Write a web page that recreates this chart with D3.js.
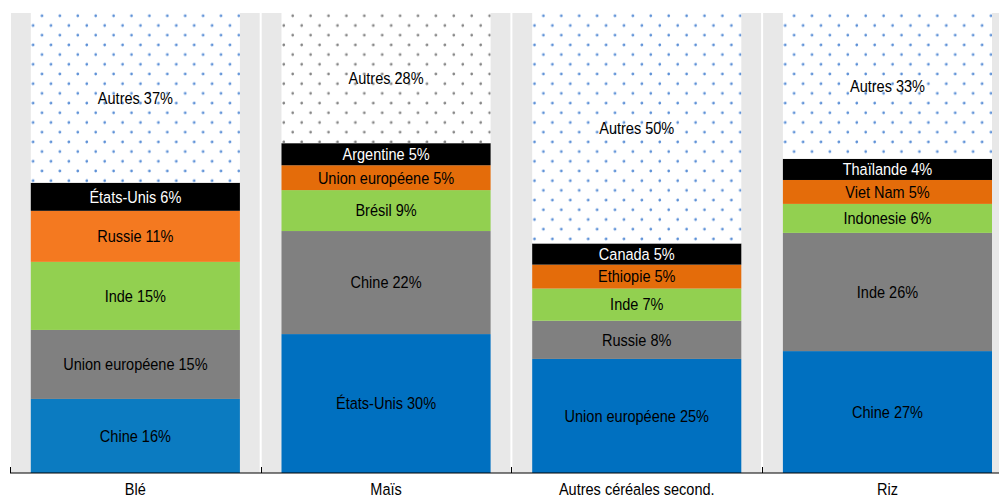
<!DOCTYPE html>
<html><head><meta charset="utf-8">
<script src="https://cdn.jsdelivr.net/npm/d3@7"></script>
<style>body{margin:0;background:#fff}svg{display:block}</style>
</head><body>
<svg id="c" width="999" height="497"></svg>
<script>
const categories = ["Blé", "Maïs", "Autres céréales second.", "Riz"];
const bleNames = ["Chine", "Union européene", "Inde", "Russie", "États-Unis", "Autres"];
const bleValues = [16.1, 15.0, 14.8, 11.1, 6.1, 36.9];
const blePct = [16, 15, 15, 11, 6, 37];
const maisNames = ["États-Unis", "Chine", "Brésil", "Union européene", "Argentine", "Autres"];
const maisValues = [30.2, 22.4, 8.9, 5.4, 4.8, 28.3];
const maisPct = [30, 22, 9, 5, 5, 28];
const autresNames = ["Union européene", "Russie", "Inde", "Ethiopie", "Canada", "Autres"];
const autresValues = [24.8, 8.3, 7.0, 5.2, 4.6, 50.1];
const autresPct = [25, 8, 7, 5, 5, 50];
const rizNames = ["Chine", "Inde", "Indonesie", "Viet Nam", "Thaïlande", "Autres"];
const rizValues = [26.5, 25.7, 6.3, 5.2, 4.6, 31.7];
const rizPct = [27, 26, 6, 5, 4, 33];

(function () {
const groups = [
  {names: bleNames, values: bleValues, pct: blePct,
   colors: ["#0b7bc1", "#808080", "#92d050", "#f47920", "#000000"], dot: "#5b8fd6"},
  {names: maisNames, values: maisValues, pct: maisPct,
   colors: ["#0070c0", "#808080", "#92d050", "#e46c0a", "#000000"], dot: "#858585"},
  {names: autresNames, values: autresValues, pct: autresPct,
   colors: ["#0070c0", "#808080", "#92d050", "#e46c0a", "#000000"], dot: "#5b8fd6"},
  {names: rizNames, values: rizValues, pct: rizPct,
   colors: ["#0070c0", "#808080", "#92d050", "#e46c0a", "#000000"], dot: "#5b8fd6"}
];

const svg = d3.select("#c");
const font = "'Liberation Sans', Arial, sans-serif";
const fs = 16.5, sx = 0.88;
const plotTop = 13, plotBottom = 473, plotLeft = 10;
const bandW = 250.7;
const x = d3.scaleBand().domain(categories).range([plotLeft, plotLeft + bandW * categories.length]).padding(0);
const y = d3.scaleLinear().domain([0, 100]).range([plotBottom, plotTop]);
const inset = 20.8;
const barW = x.bandwidth() - 2 * inset;

const defs = svg.append("defs");

function label(cx, cy, txt, color) {
  svg.append("text").attr("transform", `translate(${cx},${cy}) scale(${sx},1)`)
    .attr("text-anchor", "middle").attr("dominant-baseline", "central")
    .attr("font-family", font).attr("font-size", fs).attr("fill", color).text(txt);
}

categories.forEach((cat, i) => {
  const g = groups[i];
  const bx = x(cat);
  svg.append("rect").attr("x", bx + 1).attr("y", y(100)).attr("width", x.bandwidth() - 2)
    .attr("height", y(0) - y(100)).attr("fill", "#e8e8e8");
  const barX = bx + inset;
  const pid = "dots" + i;
  const p = defs.append("pattern").attr("id", pid).attr("patternUnits", "userSpaceOnUse")
    .attr("x", barX + 1.5).attr("y", plotTop + 2.8).attr("width", 17.9).attr("height", 19.4);
  [[9.7, 0], [0.8, 9.7], [9.7, 19.4], [18.7, 9.7]].forEach(([cx, cy]) =>
    p.append("circle").attr("cx", cx).attr("cy", cy).attr("r", 1.35).attr("fill", g.dot));

  let cum = 0;
  g.values.forEach((v, j) => {
    const y0 = cum, y1 = cum + v;
    cum = y1;
    const isOther = j === g.values.length - 1;
    const fill = isOther ? "#ffffff" : g.colors[j];
    svg.append("rect").attr("x", barX).attr("y", y(y1)).attr("width", barW)
      .attr("height", y(y0) - y(y1)).attr("fill", fill);
    if (isOther) {
      svg.append("rect").attr("x", barX).attr("y", y(y1)).attr("width", barW)
        .attr("height", y(y0) - y(y1)).attr("fill", "url(#" + pid + ")");
    }
    label(barX + barW / 2, (y(y0) + y(y1)) / 2, g.names[j] + " " + g.pct[j] + "%",
      g.colors[j] === "#000000" && !isOther ? "#ffffff" : "#000000");
  });
});

svg.append("line").attr("x1", plotLeft).attr("x2", 999).attr("y1", plotBottom).attr("y2", plotBottom)
  .attr("stroke", "#000").attr("stroke-width", 1.2);
const tickPos = categories.map(c => x(c));
svg.selectAll(".tk").data(tickPos).enter().append("line")
  .attr("x1", d => Math.round(d) + 0.5).attr("x2", d => Math.round(d) + 0.5)
  .attr("y1", plotBottom).attr("y2", plotBottom - 6).attr("stroke", "#000").attr("stroke-width", 1);
categories.forEach(c => label(x(c) + x.bandwidth() / 2, 489, c, "#000"));
})();
</script>
</body></html>
